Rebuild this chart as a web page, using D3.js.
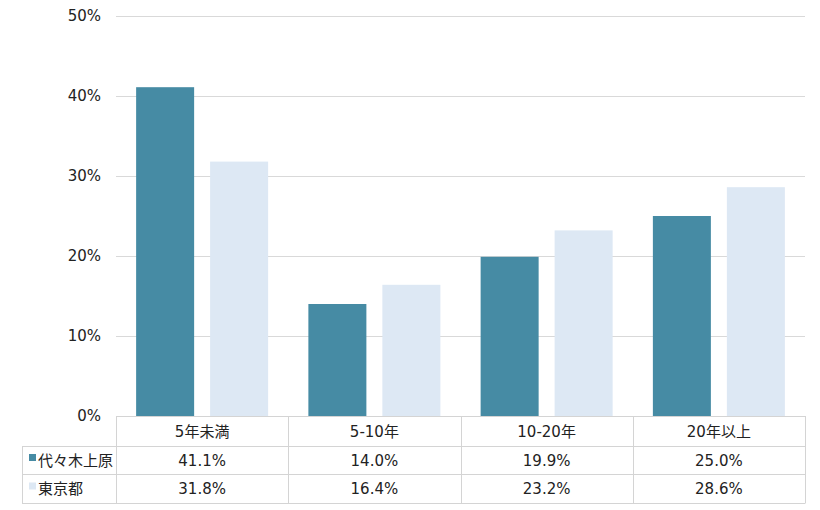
<!DOCTYPE html>
<html><head><meta charset="utf-8">
<script src="https://cdn.jsdelivr.net/npm/d3@7"></script>
<style>body{margin:0;background:#fff;} text{font-family:"DejaVu Sans","Noto Sans CJK JP",sans-serif;}</style>
</head><body>
<svg id="c" width="820" height="510"></svg>
<script>
const categories = ["5年未満","5-10年","10-20年","20年以上"];
const seriesNames = ["代々木上原","東京都"];
const yoyogi = [41.1,14.0,19.9,25.0];
const tokyo = [31.8,16.4,23.2,28.6];
const yTicks = [0,10,20,30,40,50];
const colors = ["#468BA4","#DDE8F4"];

const svg = d3.select("#c");
const pLeft=116,pRight=805,pTop=16,pBottom=416;
const x = d3.scaleBand().domain(categories).range([pLeft,pRight]);
const y = d3.scaleLinear().domain([0,50]).range([pBottom,pTop]);
const xs = d3.scaleBand().domain(seriesNames).range([0,x.bandwidth()]).paddingInner(0.216).paddingOuter(0.272);

svg.append("g").selectAll("line").data(yTicks.filter(d=>d>0)).join("line")
  .attr("x1",pLeft).attr("x2",pRight).attr("y1",d=>y(d)+0.5).attr("y2",d=>y(d)+0.5)
  .attr("stroke","#d9d9d9").attr("stroke-width",1);
svg.append("g").selectAll("text").data(yTicks).join("text")
  .attr("x",101).attr("y",d=>y(d)+5).attr("text-anchor","end")
  .attr("font-size",15).attr("fill","#222").text(d=>d+"%");

const series=[yoyogi,tokyo];
series.forEach((vals,si)=>{
  svg.append("g").selectAll("rect").data(vals).join("rect")
    .attr("x",(d,i)=>x(categories[i])+xs(seriesNames[si]))
    .attr("width",xs.bandwidth())
    .attr("y",d=>y(d)).attr("height",d=>pBottom-y(d))
    .attr("fill",colors[si]);
});

const rowY=[416,446,474,503];
const tbl=svg.append("g");
const lc="#d4d4d4";
tbl.append("line").attr("x1",pLeft).attr("x2",pRight).attr("y1",rowY[0]+0.5).attr("y2",rowY[0]+0.5).attr("stroke",lc);
[1,2,3].forEach(r=>{
  tbl.append("line").attr("x1",22).attr("x2",pRight).attr("y1",rowY[r]+0.5).attr("y2",rowY[r]+0.5).attr("stroke",lc);
});
tbl.append("line").attr("x1",22.5).attr("x2",22.5).attr("y1",rowY[1]).attr("y2",rowY[3]+0.5).attr("stroke",lc);
categories.forEach((c,i)=>{
  tbl.append("line").attr("x1",Math.round(x(c))+0.5).attr("x2",Math.round(x(c))+0.5).attr("y1",rowY[0]).attr("y2",rowY[3]+0.5).attr("stroke",lc);
});
tbl.append("line").attr("x1",pRight+0.5).attr("x2",pRight+0.5).attr("y1",rowY[0]).attr("y2",rowY[3]+0.5).attr("stroke",lc);
tbl.selectAll("text.h").data(categories).join("text").attr("class","h")
  .attr("x",d=>x(d)+x.bandwidth()/2).attr("y",437).attr("text-anchor","middle")
  .attr("font-size",15).attr("fill","#222").text(d=>d);
const rowBase=[466,494];
series.forEach((vals,si)=>{
  const cy=(rowY[si+1]+rowY[si+2])/2;
  tbl.append("rect").attr("x",29).attr("y",cy-6).attr("width",7).attr("height",7).attr("fill",colors[si]);
  tbl.append("text").attr("x",38).attr("y",rowBase[si]).attr("font-size",15).attr("fill","#222").text(seriesNames[si]);
  tbl.selectAll("text.v"+si).data(vals).join("text").attr("class","v"+si)
    .attr("x",(d,i)=>x(categories[i])+x.bandwidth()/2).attr("y",rowBase[si]).attr("text-anchor","middle")
    .attr("font-size",15).attr("fill","#222").text(d=>d.toFixed(1)+"%");
});
</script>
</body></html>
